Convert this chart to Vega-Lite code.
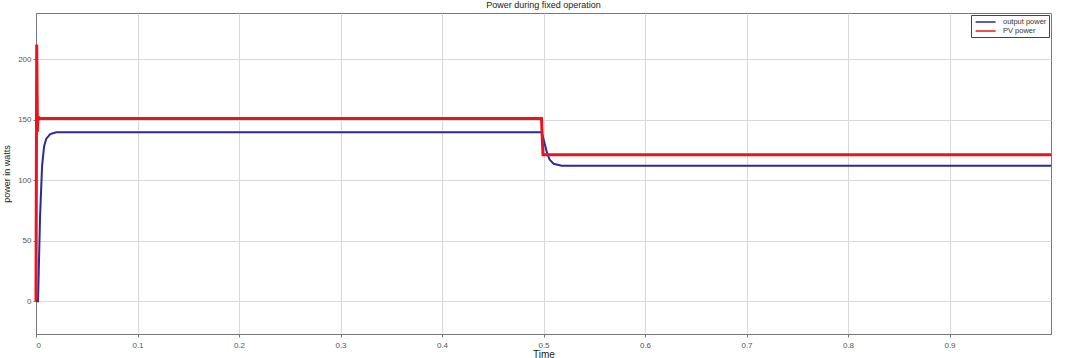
{
  "$schema": "https://vega.github.io/schema/vega-lite/v6.json",
  "autosize": "none",
  "width": 1015,
  "height": 321,
  "padding": {"left": 36, "top": 13, "right": 14, "bottom": 24},
  "background": "white",
  "title": {"text": "Power during fixed operation", "fontSize": 9, "font": "Liberation Sans", "fontWeight": "normal", "color": "#222", "offset": 3},
  "config": {
    "view": {"stroke": "#777", "strokeWidth": 1},
    "axis": {"labelFont": "Liberation Sans", "labelFontSize": 8, "labelColor": "#555", "titleFont": "Liberation Sans", "gridColor": "#d8d8d8", "domainColor": "#777", "tickColor": "#777", "tickSize": 3}
  },
  "datasets": {
    "pv": [
      {"t": 0, "p": 0, "s": "PV power"},
      {"t": 0.0007, "p": 212, "s": "PV power"},
      {"t": 0.0014, "p": 140, "s": "PV power"},
      {"t": 0.002, "p": 152, "s": "PV power"},
      {"t": 0.004, "p": 151, "s": "PV power"},
      {"t": 0.498, "p": 151, "s": "PV power"},
      {"t": 0.4995, "p": 121, "s": "PV power"},
      {"t": 1, "p": 121, "s": "PV power"}
    ],
    "out": [
      {"t": 0, "p": 0, "s": "output power"},
      {"t": 0.002, "p": 0, "s": "output power"},
      {"t": 0.004, "p": 70, "s": "output power"},
      {"t": 0.006, "p": 112, "s": "output power"},
      {"t": 0.008, "p": 128, "s": "output power"},
      {"t": 0.01, "p": 134, "s": "output power"},
      {"t": 0.014, "p": 138, "s": "output power"},
      {"t": 0.02, "p": 139.5, "s": "output power"},
      {"t": 0.498, "p": 139.5, "s": "output power"},
      {"t": 0.5, "p": 134, "s": "output power"},
      {"t": 0.503, "p": 124, "s": "output power"},
      {"t": 0.506, "p": 117, "s": "output power"},
      {"t": 0.51, "p": 113.5, "s": "output power"},
      {"t": 0.518, "p": 112, "s": "output power"},
      {"t": 1, "p": 112, "s": "output power"}
    ]
  },
  "encoding": {
    "x": {"field": "t", "type": "quantitative", "scale": {"domain": [0, 1], "nice": false},
      "axis": {"title": "Time", "titleFontSize": 10, "titleFontWeight": "normal", "titleColor": "#222", "titlePadding": 0, "values": [0, 0.1, 0.2, 0.3, 0.4, 0.5, 0.6, 0.7, 0.8, 0.9], "format": "~g", "labelPadding": 4}},
    "y": {"field": "p", "type": "quantitative", "scale": {"domain": [-27, 238], "nice": false, "zero": false},
      "axis": {"title": "power in watts", "titleFontSize": 9, "titleFontWeight": "normal", "titleColor": "#222", "titlePadding": 6, "values": [0, 50, 100, 150, 200]}},
    "color": {"field": "s", "type": "nominal",
      "scale": {"domain": ["output power", "PV power"], "range": ["#2a2aa0", "#e8141e"]},
      "legend": {"title": null, "orient": "top-right", "offset": 2, "symbolType": "M-0.6,0H4.4", "symbolSize": 64, "symbolStrokeWidth": 1.5, "labelFontSize": 7.5, "labelFont": "Liberation Sans", "labelColor": "#333", "strokeColor": "#444", "fillColor": "white", "padding": 2, "rowPadding": 0, "labelOffset": 20}}
  },
  "layer": [
    {"data": {"name": "out"}, "mark": {"type": "line", "strokeWidth": 2}},
    {"data": {"name": "pv"}, "mark": {"type": "line", "strokeWidth": 3}}
  ]
}
